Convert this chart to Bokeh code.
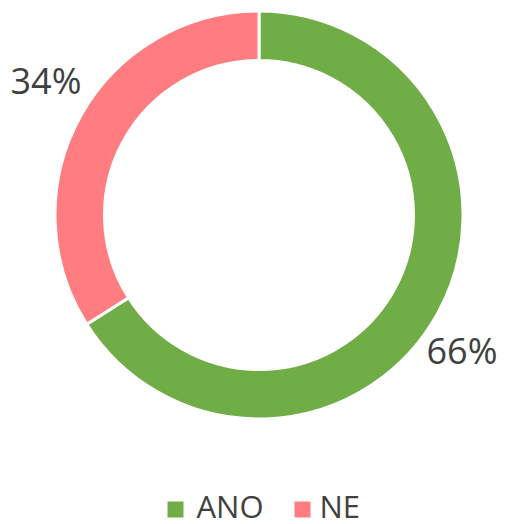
import math
from bokeh.plotting import figure
from bokeh.models import Range1d, ColumnDataSource
from bokeh.core.properties import value
from bokeh.embed import file_html
from bokeh.resources import INLINE

# ---- data ----
categories = ["ANO", "NE"]
values = [66, 34]
colors = ["#70AD47", "#FF7C80"]

# ---- layout ----
W, H = 507, 524
cx, cy = 258.5, 309.5
outer_r, inner_r = 204.0, 154.5
text_color = "#404040"
font = "Open Sans"

total = float(sum(values))
starts, ends = [], []
acc = 0.0
for v in values:
    starts.append(math.pi / 2 - 2 * math.pi * acc / total)
    acc += v
    ends.append(math.pi / 2 - 2 * math.pi * acc / total)

src = ColumnDataSource(dict(
    cat=categories, val=values, color=colors, start=starts, end=ends,
    x=[cx] * len(values), y=[cy] * len(values),
))

p = figure(width=W, height=H, x_range=Range1d(0, W), y_range=Range1d(0, H),
           output_backend="svg", toolbar_location=None, min_border=0,
           x_axis_location=None, y_axis_location=None)
p.outline_line_color = None
p.grid.visible = False
p.background_fill_color = "white"
p.border_fill_color = "white"

p.annular_wedge(x="x", y="y", inner_radius=inner_r, outer_radius=outer_r,
                start_angle="start", end_angle="end", direction="clock",
                fill_color="color", line_color="white", line_width=3, source=src)

# data labels (anchored per slice)
label_pos = {"ANO": (426, 174), "NE": (10, 444)}
lbl = ColumnDataSource(dict(
    x=[label_pos[c][0] for c in categories],
    y=[label_pos[c][1] for c in categories],
    t=["%d%%" % round(v * 100 / total) for v in values],
))
p.text(x="x", y="y", text="t", source=lbl, text_font=value(font),
       text_font_size="36px", text_color=text_color,
       text_align="left", text_baseline="middle")

# legend (manual)
leg_sq_x = [175, 302]
leg_tx_x = [196, 319]
p.scatter(x=leg_sq_x, y=[15, 15], marker="square", size=16,
          fill_color=colors, line_color=None)
p.text(x=leg_tx_x, y=[19, 19], text=categories, text_font=value(font),
       text_font_size="31px", text_color=text_color,
       text_align="left", text_baseline="middle")

open("out.html", "w").write(file_html(p, INLINE))
